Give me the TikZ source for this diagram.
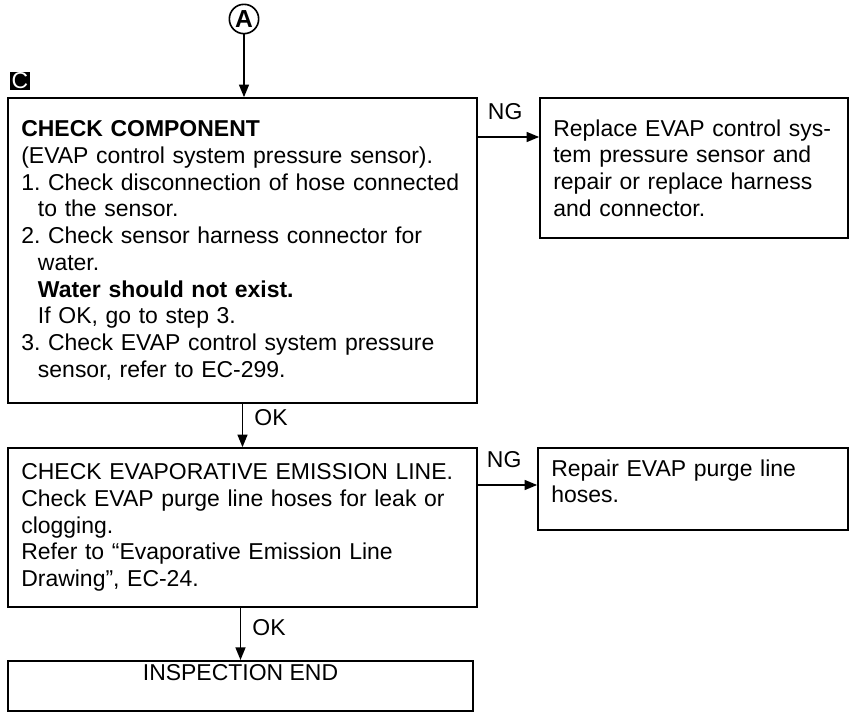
\documentclass[tikz,border=0pt]{standalone}
\usepackage{fontspec}
\setmainfont{Liberation Sans}
\usetikzlibrary{arrows.meta}
\frenchspacing
\begin{document}
\begin{tikzpicture}[x=0.03cm,y=-0.03cm,every node/.style={font=\fontsize{19.6pt}{22.8pt}\selectfont},>={Triangle[length=0.38cm,width=0.3cm]},line width=1.4pt]
\tikzset{box/.style={draw,align=left,inner xsep=0.4cm,inner ysep=0pt}, lab/.style={inner sep=1pt}}
\useasboundingbox (0,0) rectangle (855,713);
\node[draw,circle,inner sep=0pt,minimum size=0.88cm,font=\fontsize{21pt}{22pt}\selectfont\bfseries] (A) at (244,19) {A};
\node[fill=black,text=white,inner sep=0pt,minimum width=0.6cm,minimum height=0.54cm] (C) at (20,81) {C};
\node[box,text width=13.27cm,minimum height=9.15cm] (comp) at (242.5,250.5) {\textbf{CHECK COMPONENT}\\(EVAP control system pressure sensor).\\1. Check disconnection of hose connected\\\hspace*{0.5cm}to the sensor.\\2. Check sensor harness connector for\\\hspace*{0.5cm}water.\\\hspace*{0.5cm}\textbf{Water should not exist.}\\\hspace*{0.5cm}If OK, go to step 3.\\3. Check EVAP control system pressure\\\hspace*{0.5cm}sensor, refer to EC-299.};
\node[box,text width=8.44cm,minimum height=4.2cm] (replace) at (694,168) {Replace EVAP control sys-\\tem pressure sensor and\\repair or replace harness\\and connector.};
\node[box,text width=13.27cm,minimum height=4.77cm] (line) at (242.5,527.5) {CHECK EVAPORATIVE EMISSION LINE.\\Check EVAP purge line hoses for leak or\\clogging.\\Refer to “Evaporative Emission Line\\Drawing”, EC-24.};
\node[box,text width=8.5cm,minimum height=2.46cm,text depth=1.27cm] (repair) at (693,489) {Repair EVAP purge line\\hoses.};
\node[draw,align=center,anchor=north,minimum width=13.95cm,inner sep=0pt,text height=0.6cm,text depth=0.9cm] (end) at (240.5,660) {INSPECTION END};
\draw[->] (A.south) -- (A |- comp.north);
\draw[->] (comp.east |- 0,137) -- node[lab,above=0.45cm,xshift=-0.1cm] {NG} (replace.west |- 0,137);
\draw[->] (comp.south) -- node[lab,right=0.3cm,yshift=0.24cm] {OK} (line.north);
\draw[->] (line.east |- 0,485) -- node[lab,above=0.45cm,xshift=-0.1cm] {NG} (repair.west |- 0,485);
\draw[->] (end.north |- line.south) -- node[lab,right=0.3cm,yshift=0.2cm] {OK} (end.north);
\end{tikzpicture}
\end{document}
